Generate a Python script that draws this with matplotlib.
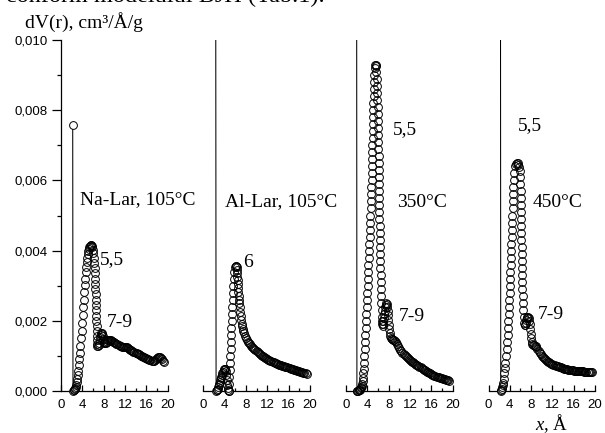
import numpy as np
import matplotlib
matplotlib.use("Agg")
import matplotlib.pyplot as plt
from matplotlib.ticker import FixedLocator

plt.rcParams['font.family'] = ['Liberation Sans', 'DejaVu Sans']
plt.rcParams['mathtext.fontset'] = 'custom'
plt.rcParams['mathtext.rm'] = 'Liberation Serif'
plt.rcParams['mathtext.it'] = 'Liberation Serif:italic'

# ---------------- data (pore radius x in Å, dV(r) in cm3/Å/g) ----------------
p1_x = [2.2, 2.25, 2.35, 2.45, 2.55, 2.65, 2.75, 2.85, 2.95, 3.05, 3.15, 3.25, 3.35, 3.45, 3.55, 3.65, 3.75,
        3.85, 3.95, 4.05, 4.15, 4.25, 4.35, 4.45, 4.55, 4.65, 4.75, 4.85, 4.95, 5.05, 5.15, 5.25, 5.35, 5.45, 5.55,
        5.65, 5.75, 5.88, 6.0, 6.1, 6.18, 6.25, 6.3, 6.35, 6.39, 6.43, 6.47, 6.5, 6.53, 6.56, 6.59, 6.62, 6.65,
        6.68, 6.71, 6.74, 6.77, 6.8,
        6.85, 6.95, 7.05, 7.15, 7.25, 7.35, 7.45, 7.55, 7.65, 7.75, 7.85, 7.95, 8.05, 8.15, 8.25, 8.4, 8.55, 8.7,
        8.85, 9.0, 9.15, 9.3, 9.45, 9.6, 9.8,
        10.0, 10.2, 10.4, 10.6, 10.8, 11.0, 11.2, 11.4, 11.6, 11.8, 12.0, 12.2, 12.4, 12.6, 12.8, 13.0, 13.2, 13.4,
        13.6, 13.8, 14.0, 14.2, 14.4, 14.6, 14.8, 15.0, 15.2, 15.4, 15.6, 15.8, 16.0, 16.2, 16.4, 16.6, 16.8, 17.0,
        17.2, 17.4, 17.6, 17.8, 18.0, 18.2, 18.4, 18.6, 18.8, 19.0, 19.2, 19.4]
p1_v = [0.00758, 0.00001, 0.00002, 0.00003, 0.00005, 0.00008, 0.00012, 0.00018, 0.00026, 0.00035, 0.00045,
        0.00058, 0.00073, 0.0009, 0.00109, 0.00129, 0.0015, 0.00172, 0.00194, 0.00216, 0.00238, 0.0026, 0.00281,
        0.00301, 0.0032, 0.00338, 0.00354, 0.00368, 0.0038, 0.0039, 0.00398, 0.00405, 0.0041, 0.00414, 0.00416,
        0.00416, 0.00414, 0.0041, 0.00403, 0.00393, 0.0038, 0.00365, 0.0035, 0.00335, 0.0032, 0.00305, 0.0029,
        0.00275, 0.0026, 0.00245, 0.0023, 0.00215, 0.002, 0.00185, 0.0017, 0.00157, 0.00145, 0.00135,
        0.00128, 0.00127, 0.0013, 0.00136, 0.00144, 0.00153, 0.0016, 0.00165, 0.00166, 0.00163, 0.00156, 0.00148,
        0.00141, 0.00137, 0.00136, 0.00137, 0.0014, 0.00144, 0.00146, 0.00146, 0.00145, 0.00144, 0.00143, 0.00142,
        0.0014,
        0.00139, 0.00137, 0.00135, 0.00133, 0.0013, 0.00128, 0.00127, 0.00126, 0.00126, 0.00126, 0.00126, 0.00125,
        0.00124, 0.00122, 0.0012, 0.00118, 0.00116, 0.00114, 0.00112, 0.0011, 0.00108, 0.00107, 0.00105, 0.00104,
        0.00102, 0.00101, 0.00099, 0.00098, 0.00096, 0.00095, 0.00093, 0.00092, 0.0009, 0.00089, 0.00087, 0.00086,
        0.00085, 0.00086, 0.00088, 0.00092, 0.00095, 0.00097, 0.00098, 0.00097, 0.00094, 0.0009, 0.00086, 0.00083]

p2_x = [2.33, 2.4, 2.5, 2.6, 2.7, 2.8, 2.9, 3.0, 3.1, 3.2, 3.3, 3.4, 3.5, 3.6, 3.7, 3.8, 3.9, 4.0, 4.1, 4.2,
        4.3, 4.4, 4.5, 4.6, 4.7, 4.8,
        4.85, 4.88, 4.92, 4.97, 5.02, 5.07, 5.12, 5.17, 5.22, 5.28, 5.33, 5.38, 5.44, 5.5, 5.56, 5.63, 5.7, 5.8,
        5.92, 6.05, 6.18,
        6.25, 6.3, 6.35, 6.4, 6.45, 6.5, 6.55, 6.6, 6.65, 6.7, 6.75, 6.8, 6.9, 7.0, 7.1, 7.2, 7.3, 7.4, 7.5, 7.6,
        7.8, 8.0, 8.2, 8.4, 8.6, 8.8, 9.0, 9.2, 9.4, 9.6, 9.8, 10.0, 10.2, 10.4, 10.6, 10.8, 11.0, 11.2, 11.4,
        11.6, 11.8, 12.0, 12.2, 12.4, 12.6, 12.8, 13.0, 13.2, 13.4, 13.6, 13.8, 14.0, 14.2, 14.4, 14.6, 14.8, 15.0,
        15.2, 15.4, 15.6, 15.8, 16.0, 16.2, 16.4, 16.6, 16.8, 17.0, 17.2, 17.4, 17.6, 17.8, 18.0, 18.2, 18.4, 18.6,
        18.8, 19.0, 19.2, 19.4]
p2_v = [0.012, 0.00001, 0.00002, 0.00004, 0.00007, 0.00011, 0.00016, 0.00021, 0.00026, 0.00031, 0.00036,
        0.00041, 0.00046, 0.0005, 0.00055, 0.00059, 0.00062, 0.00064, 0.00064, 0.00058, 0.00045, 0.0003, 0.00017,
        0.00008, 0.00003, 0.00001,
        0.0, 0.0002, 0.0004, 0.0006, 0.0008, 0.001, 0.0012, 0.0014, 0.0016, 0.0018, 0.002, 0.0022, 0.0024, 0.0026,
        0.0028, 0.003, 0.0032, 0.0034, 0.00352, 0.00356, 0.00355,
        0.00352, 0.00345, 0.00336, 0.00326, 0.00315, 0.00304, 0.00293, 0.00282, 0.00271, 0.0026, 0.0025, 0.0024,
        0.00226, 0.00213, 0.00202, 0.00192, 0.00184, 0.00177, 0.0017, 0.00165,
        0.00158, 0.00152, 0.00146, 0.00141, 0.00137, 0.00133, 0.00129, 0.00125, 0.00122, 0.00119, 0.00116,
        0.00113, 0.0011, 0.00108, 0.00105, 0.00103, 0.00101, 0.00099, 0.00097, 0.00095, 0.00093, 0.00091,
        0.00089, 0.00088, 0.00086, 0.00085, 0.00083, 0.00082, 0.0008, 0.00079, 0.00078, 0.00076, 0.00075,
        0.00074, 0.00073, 0.00072, 0.00071, 0.0007, 0.00069, 0.00068, 0.00067, 0.00066, 0.00065, 0.00064,
        0.00063, 0.00062, 0.00061, 0.0006, 0.00059, 0.00058, 0.00057, 0.00056, 0.00055, 0.00054, 0.00053,
        0.00052, 0.00051, 0.0005, 0.00049]

p3_x = [2.0, 2.05, 2.15, 2.25, 2.35, 2.45, 2.55, 2.65, 2.75, 2.85, 2.95, 3.05, 3.12, 3.19, 3.25, 3.3, 3.36, 3.42,
        3.48, 3.55, 3.62, 3.68, 3.75, 3.81, 3.88, 3.94, 4.0, 4.06, 4.12, 4.17, 4.22, 4.27, 4.32, 4.37, 4.42, 4.47,
        4.52, 4.57, 4.62, 4.67, 4.71, 4.75, 4.79, 4.83, 4.87, 4.9, 4.93, 4.96, 5.0, 5.03, 5.07, 5.1, 5.13, 5.16,
        5.19, 5.22, 5.26, 5.3, 5.36, 5.45, 5.55, 5.64,
        5.7, 5.75, 5.8, 5.84, 5.88, 5.92, 5.95, 5.98, 6.01, 6.04, 6.07, 6.1, 6.12, 6.15, 6.17, 6.19, 6.21, 6.22,
        6.23, 6.25, 6.27, 6.29, 6.31, 6.33, 6.35, 6.37, 6.4, 6.42, 6.45, 6.48, 6.52, 6.56, 6.6, 6.65, 6.7, 6.75,
        6.8, 6.85, 6.9,
        6.97, 7.04, 7.11, 7.18, 7.26, 7.35, 7.45, 7.55, 7.64, 7.72, 7.8, 7.88, 7.96, 8.04, 8.12, 8.2, 8.3, 8.42,
        8.55, 8.7, 8.85,
        9.0, 9.2, 9.4, 9.6, 9.8, 10.0, 10.2, 10.4, 10.6, 10.8, 11.0, 11.2, 11.4, 11.6, 11.8, 12.0, 12.2, 12.4,
        12.6, 12.8, 13.0, 13.2, 13.4, 13.6, 13.8, 14.0, 14.2, 14.4, 14.6, 14.8, 15.0, 15.2, 15.4, 15.6, 15.8,
        16.0, 16.2, 16.4, 16.6, 16.8, 17.0, 17.2, 17.4, 17.6, 17.8, 18.0, 18.2, 18.4, 18.6, 18.8, 19.0, 19.2, 19.3]
p3_v = [0.012, 0.0, 0.0, 0.00001, 0.00002, 0.00003, 0.00004, 0.00006, 0.00008, 0.00011, 0.00015, 0.0002,
        0.00028, 0.00038, 0.0005, 0.00064, 0.0008, 0.001, 0.0012, 0.0014, 0.0016, 0.0018, 0.002, 0.0022, 0.0024,
        0.0026, 0.0028, 0.003, 0.0032, 0.0034, 0.0036, 0.0038, 0.004, 0.0042, 0.0044, 0.0046, 0.0048, 0.005,
        0.0052, 0.0054, 0.0056, 0.0058, 0.006, 0.0062, 0.0064, 0.0066, 0.0068, 0.007, 0.0072, 0.0074, 0.0076,
        0.0078, 0.008, 0.0082, 0.0084, 0.0086, 0.0088, 0.009, 0.0092, 0.00928, 0.0093, 0.00925,
        0.0091, 0.0089, 0.0087, 0.0085, 0.0083, 0.0081, 0.0079, 0.0077, 0.0075, 0.0073, 0.0071, 0.0069, 0.0067,
        0.0065, 0.0063, 0.0061, 0.0059, 0.0057, 0.0055, 0.0053, 0.0051, 0.0049, 0.0047, 0.0045, 0.0043, 0.0041,
        0.0039, 0.0037, 0.0035, 0.0033, 0.0031, 0.0029, 0.0027, 0.0025, 0.0023, 0.0021, 0.002, 0.0019, 0.00185,
        0.00192, 0.002, 0.00209, 0.00218, 0.00228, 0.00238, 0.00246, 0.0025, 0.00248, 0.0024, 0.00229, 0.00216,
        0.00202, 0.00188, 0.00176, 0.00166, 0.00158, 0.00152, 0.00149, 0.00147, 0.00146,
        0.00145, 0.00143, 0.00139, 0.00133, 0.00127, 0.00122, 0.00117, 0.00113, 0.00109, 0.00105, 0.00102,
        0.00099, 0.00096, 0.00093, 0.0009, 0.00088, 0.00086, 0.00084, 0.00082, 0.0008, 0.00077, 0.00075, 0.00073,
        0.00071, 0.00069, 0.00067, 0.00065, 0.00063, 0.00061, 0.00059, 0.00057, 0.00055, 0.00053, 0.00052,
        0.0005, 0.00048, 0.00047, 0.00045, 0.00044, 0.00042, 0.00041, 0.0004, 0.00039, 0.00038, 0.00037,
        0.00036, 0.00035, 0.00034, 0.00033, 0.00032, 0.00031, 0.0003, 0.00029]

p4_x = [2.25, 2.3, 2.4, 2.5, 2.6, 2.7, 2.8, 2.88, 2.97, 3.08, 3.18, 3.3, 3.41, 3.5, 3.59, 3.67, 3.75, 3.82, 3.88,
        3.93, 3.98, 4.02, 4.06, 4.1, 4.14, 4.18, 4.22, 4.27, 4.32, 4.37, 4.42, 4.47, 4.51, 4.55, 4.6, 4.65, 4.71,
        4.8, 4.95, 5.12, 5.3, 5.47,
        5.62, 5.75, 5.85, 5.93, 5.99, 6.02, 6.05, 6.07, 6.09, 6.11, 6.13, 6.15, 6.17, 6.2, 6.22, 6.25, 6.27, 6.3,
        6.33, 6.37, 6.41, 6.46, 6.52, 6.6, 6.7, 6.82,
        6.92, 7.02, 7.12, 7.22, 7.32, 7.42, 7.52, 7.62, 7.72, 7.82, 7.92, 8.02, 8.12, 8.25, 8.4, 8.55, 8.7, 8.85,
        9.0,
        9.2, 9.4, 9.6, 9.8, 10.0, 10.2, 10.4, 10.6, 10.8, 11.0, 11.2, 11.4, 11.6, 11.8, 12.0, 12.2, 12.4, 12.6,
        12.8, 13.0, 13.2, 13.4, 13.6, 13.8, 14.0, 14.2, 14.4, 14.6, 14.8, 15.0, 15.2, 15.4, 15.6, 15.8, 16.0,
        16.2, 16.4, 16.6, 16.8, 17.0, 17.2, 17.4, 17.6, 17.8, 18.0, 18.2, 18.4, 18.6, 18.8, 19.0, 19.2, 19.4]
p4_v = [0.012, 0.00001, 0.00003, 0.00006, 0.0001, 0.00016, 0.00024, 0.00033, 0.0005, 0.00065, 0.0008, 0.001,
        0.0012, 0.0014, 0.0016, 0.0018, 0.002, 0.0022, 0.0024, 0.0026, 0.0028, 0.003, 0.0032, 0.0034, 0.0036,
        0.0038, 0.004, 0.0042, 0.0044, 0.0046, 0.0048, 0.005, 0.0052, 0.0054, 0.0056, 0.0058, 0.006, 0.0062,
        0.0064, 0.00648, 0.0065, 0.0065,
        0.00645, 0.00638, 0.00626, 0.0061, 0.0059, 0.0057, 0.0055, 0.0053, 0.0051, 0.0049, 0.0047, 0.0045,
        0.0043, 0.0041, 0.0039, 0.0037, 0.0035, 0.0033, 0.0031, 0.0029, 0.0027, 0.0025, 0.0023, 0.0021, 0.00195,
        0.00188,
        0.00188, 0.00195, 0.00202, 0.00207, 0.0021, 0.0021, 0.00207, 0.002, 0.0019, 0.00176, 0.00162, 0.0015,
        0.00141, 0.00135, 0.00132, 0.0013, 0.00129, 0.00127, 0.00124,
        0.00119, 0.00114, 0.00109, 0.00104, 0.001, 0.00097, 0.00094, 0.00091, 0.00088, 0.00086, 0.00084, 0.00082,
        0.0008, 0.00078, 0.00076, 0.00075, 0.00073, 0.00072, 0.00071, 0.0007, 0.00069, 0.00068, 0.00067, 0.00066,
        0.00065, 0.00064, 0.00063, 0.00062, 0.00062, 0.00061, 0.0006, 0.0006, 0.00059, 0.00059, 0.00058, 0.00058,
        0.00058, 0.00057, 0.00057, 0.00057, 0.00056, 0.00056, 0.00056, 0.00056, 0.00055, 0.00055, 0.00055,
        0.00055, 0.00055, 0.00055, 0.00055, 0.00055]

x_ticks = [0, 4, 8, 12, 16, 20]
x_ticklabels = ["0", "4", "8", "12", "16", "20"]
x_minor = [2, 6, 10, 14, 18]
y_ticks = [0.0, 0.002, 0.004, 0.006, 0.008, 0.010]
y_ticklabels = ["0,000", "0,002", "0,004", "0,006", "0,008", "0,010"]
y_minor = [0.001, 0.003, 0.005, 0.007, 0.009]

# annotations: (panel, x, y, text)
labels = [
    (0, 3.55, 0.00546, "Na-Lar, 105°C"),
    (0, 7.35, 0.00374, "5,5"),
    (0, 8.5, 0.00194, "7-9"),
    (1, 4.05, 0.00540, "Al-Lar, 105°C"),
    (1, 7.5, 0.00366, "6"),
    (2, 8.8, 0.00746, "5,5"),
    (2, 9.6, 0.00537, "350°C"),
    (2, 9.9, 0.00211, "7-9"),
    (3, 5.5, 0.00757, "5,5"),
    (3, 8.2, 0.00537, "450°C"),
    (3, 9.3, 0.00217, "7-9"),
]

SERIF = ['Liberation Serif', 'DejaVu Serif']
W, H = 605, 433
fig = plt.figure(figsize=(W / 100, H / 100), dpi=100)
lefts = [61, 203.3, 346, 488.5]
panels = [(p1_x, p1_v), (p2_x, p2_v), (p3_x, p3_v), (p4_x, p4_v)]
axes = []
for i, (px, pv) in enumerate(panels):
    ax = fig.add_axes([lefts[i] / W, 1 - 391 / H, 106.5 / W, 351 / H])
    axes.append(ax)
    x = np.asarray(px)
    v = np.asarray(pv)
    ax.plot(x, v, '-', color='black', lw=0.75, zorder=2)
    m = v <= 0.010
    # white symbol faces first, then all the outlines on top (chain-like look)
    ax.plot(x[m], v[m], 'o', ms=5.6, mfc='white', mec='none',
            clip_on=False, zorder=3, linestyle='none')
    ax.plot(x[m], v[m], 'o', ms=5.6, mfc='none', mec='black', mew=0.7,
            clip_on=False, zorder=4, linestyle='none')
    ax.set_xlim(0, 20)
    ax.set_ylim(0, 0.010)
    for s in ('top', 'right'):
        ax.spines[s].set_visible(False)
    ax.spines['bottom'].set_linewidth(0.9)
    ax.xaxis.set_major_locator(FixedLocator(x_ticks))
    ax.set_xticklabels(x_ticklabels)
    ax.xaxis.set_minor_locator(FixedLocator(x_minor))
    ax.tick_params(axis='x', which='major', direction='in', length=4, width=0.9,
                   labelsize=9.5, pad=5.5)
    ax.tick_params(axis='x', which='minor', direction='in', length=2.5, width=0.9)
    if i == 0:
        ax.spines['left'].set_linewidth(0.9)
        ax.yaxis.set_major_locator(FixedLocator(y_ticks))
        ax.set_yticklabels(y_ticklabels)
        ax.yaxis.set_minor_locator(FixedLocator(y_minor))
        ax.tick_params(axis='y', which='major', direction='out', length=6.5, width=0.9,
                       labelsize=9.5, pad=3)
        ax.tick_params(axis='y', which='minor', direction='out', length=3, width=0.9)
    else:
        ax.spines['left'].set_visible(False)
        ax.set_yticks([])
    ax.patch.set_alpha(0)

for pi, lx, ly, s in labels:
    axes[pi].text(lx, ly, s, ha='left', va='center', fontsize=14, family=SERIF, zorder=5)

fig.text(6 / W, 1 - 2 / H, "conform modelului BJH (Tab.1).", fontsize=17.5, family=SERIF, va='baseline')
fig.text(25 / W, 1 - 28 / H, "dV(r), cm³/Å/g", fontsize=14, family=SERIF, va='baseline')
fig.text(535 / W, 1 - 430 / H, "$x$, Å", fontsize=13.5, family=SERIF, va='baseline')

fig.savefig("out.png", dpi=100)
